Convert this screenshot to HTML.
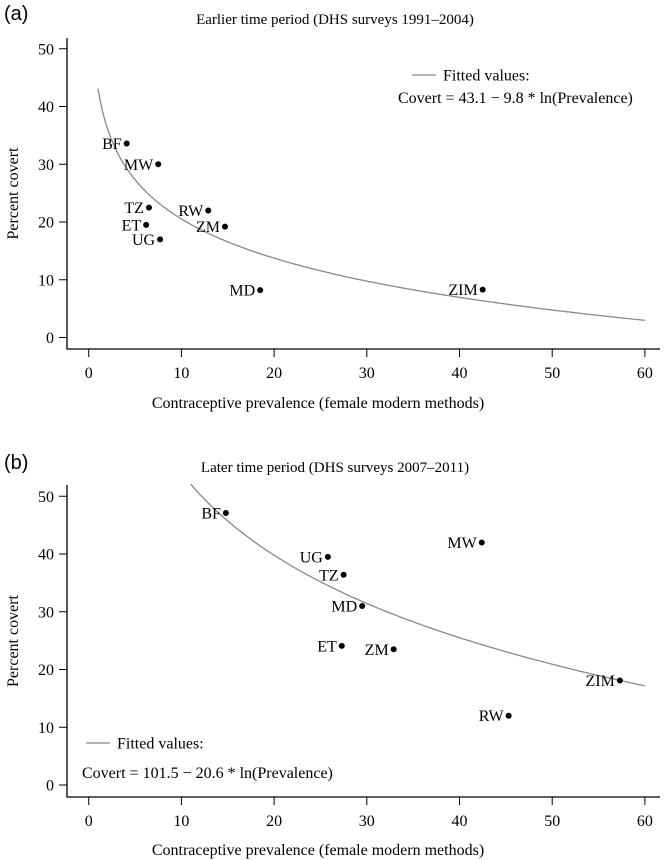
<!DOCTYPE html>
<html><head><meta charset="utf-8"><style>
body{margin:0;background:#fff}
svg{display:block;font-family:"Liberation Serif",serif}
</style></head><body>
<svg id="c" width="669" height="860"></svg>
<script>
const ptsA_labels=["BF","MW","TZ","ET","UG","RW","ZM","MD","ZIM"];
const ptsA_x=[4.1,7.5,6.5,6.2,7.7,12.9,14.7,18.5,42.5];
const ptsA_y=[33.6,30,22.5,19.5,17,22,19.2,8.2,8.3];
const ptsB_labels=["BF","UG","TZ","MD","ET","ZM","MW","ZIM","RW"];
const ptsB_x=[14.8,25.8,27.5,29.5,27.3,32.9,42.4,57.3,45.3];
const ptsB_y=[47.1,39.5,36.4,31,24.1,23.5,42,18.1,12];
const fitA=[43.1,-9.8];
const fitB=[101.5,-20.6];
const xTicks=[0,10,20,30,40,50,60];
const yTicks=[0,10,20,30,40,50];
const NS="http://www.w3.org/2000/svg";
const svg=document.getElementById('c');
function mk(t,a,txt){const e=document.createElementNS(NS,t);for(const k in a)e.setAttribute(k,a[k]);if(txt!=null)e.textContent=txt;svg.appendChild(e);return e;}
function panel(p){
  const sx=v=>88.7+v*9.27, sy=v=>p.y0-v*5.775;
  let e;
  e=mk('text',{x:4,y:p.letterY,'font-family':'Liberation Sans,sans-serif','font-size':20},p.letter);
  
  
  e=mk('text',{x:335,y:p.titleY,'text-anchor':'middle','font-size':15},p.title);
  
  
  e=mk('line',{x1:67,y1:p.axTop,x2:67,y2:p.axY,stroke:'#000','stroke-width':1.3});
  
  
  e=mk('line',{x1:66.4,y1:p.axY,x2:660,y2:p.axY,stroke:'#000','stroke-width':1.3});
  
  
  yTicks.forEach(t=>{
    mk('line',{x1:59,y1:sy(t),x2:67,y2:sy(t),stroke:'#000'});
    e=mk('text',{x:54,y:sy(t)+5.5,'text-anchor':'end','font-size':16},String(t));
    
    
  });
  xTicks.forEach(t=>{
    mk('line',{x1:sx(t),y1:p.axY,x2:sx(t),y2:p.axY+8,stroke:'#000'});
    e=mk('text',{x:sx(t),y:p.axY+29,'text-anchor':'middle','font-size':16},String(t));
    
    
  });
  e=mk('text',{x:318,y:p.xtY,'text-anchor':'middle','font-size':16},'Contraceptive prevalence (female modern methods)');
  
  
  const cy=(p.axY+p.axTop)/2;
  e=mk('text',{x:0,y:0,'text-anchor':'middle','font-size':16,transform:`translate(18,${cy}) rotate(-90)`},'Percent covert');
  
  
  let d='';
  for(let v=p.fitFrom;v<=60.001;v+=0.25){d+=(d?'L':'M')+sx(v).toFixed(1)+','+sy(p.fit[0]+p.fit[1]*Math.log(v)).toFixed(1);}
  e=mk('path',{d:d,fill:'none',stroke:'#888','stroke-width':1.3});
  
  
  p.xs.forEach((x,i)=>{
    e=mk('circle',{cx:sx(x),cy:sy(p.ys[i]),r:3,fill:'#000'});
    
    
    e=mk('text',{x:sx(x)-5,y:sy(p.ys[i])+5.5,'text-anchor':'end','font-size':16},p.labels[i]);
    
    
  });
  const L=p.legend;
  e=mk('line',{x1:L.x,y1:L.y,x2:L.x+24,y2:L.y,stroke:'#888','stroke-width':1.3});
  
  
  e=mk('text',{x:L.x+31,y:L.y+5.5,'font-size':16},'Fitted values:');
  
  
  e=mk('text',{x:L.ex,y:L.ey,'font-size':16},p.eq);
  
  
}
panel({letter:'(a)',letterY:20,title:'Earlier time period (DHS surveys 1991\u20132004)',titleY:24,y0:337.5,axTop:38,axY:349,xtY:408,
  xs:ptsA_x,ys:ptsA_y,labels:ptsA_labels,fit:fitA,fitFrom:1,legend:{x:412,y:75,ex:398,ey:103},eq:'Covert = 43.1 \u2212 9.8 * ln(Prevalence)'});
panel({letter:'(b)',letterY:469,title:'Later time period (DHS surveys 2007\u20132011)',titleY:472,y0:785,axTop:485,axY:797,xtY:855,
  xs:ptsB_x,ys:ptsB_y,labels:ptsB_labels,fit:fitB,fitFrom:11,legend:{x:86,y:743,ex:82,ey:778},eq:'Covert = 101.5 \u2212 20.6 * ln(Prevalence)'});
</script>
</body></html>
